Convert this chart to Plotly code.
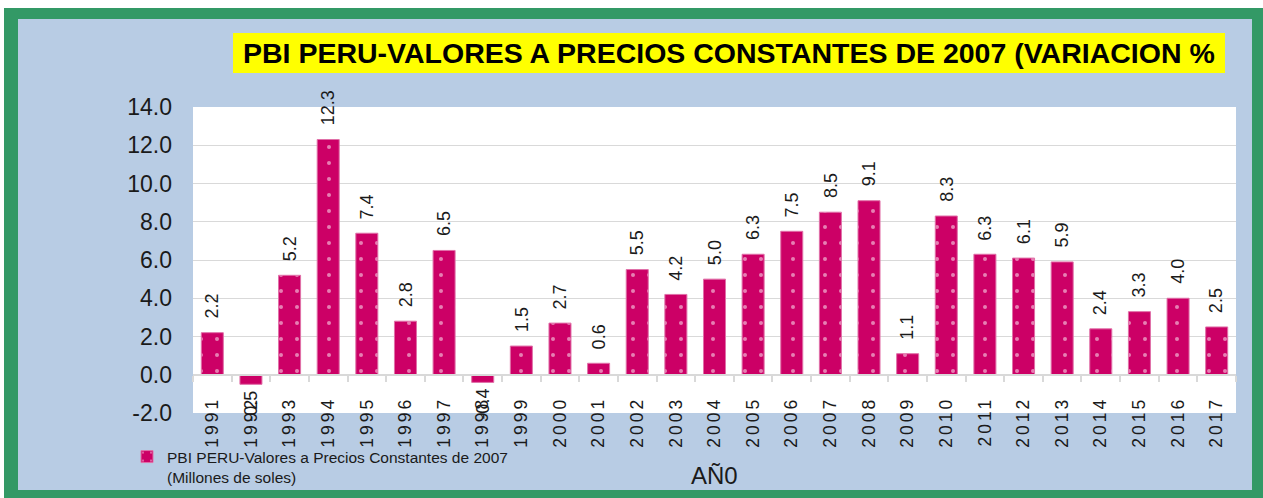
import plotly.graph_objects as go

# data
years = [str(y) for y in range(1991, 2018)]
variacion = [2.2, -0.5, 5.2, 12.3, 7.4, 2.8, 6.5, -0.4, 1.5, 2.7, 0.6, 5.5, 4.2, 5.0,
             6.3, 7.5, 8.5, 9.1, 1.1, 8.3, 6.3, 6.1, 5.9, 2.4, 3.3, 4.0, 2.5]
y_ticks = [-2, 0, 2, 4, 6, 8, 10, 12, 14]

TITLE = "PBI PERU-VALORES A PRECIOS CONSTANTES DE 2007 (VARIACION %"
SERIES = "PBI PERU-Valores a Precios Constantes de 2007<br>(Millones de soles)"
X_TITLE = "AÑ0"

FONT = "Liberation Sans, Arial, sans-serif"
GREEN = "#339966"
BLUE = "#B8CCE4"
BAR = "#CC0066"
GRID = "#D9D9D9"

# plot area in pixels
L, R, T, B = 193, 1236, 107, 413


def px_x(x):
    return (x - L) / (R - L)


def px_y(y):
    return (B - y) / (B - T)


def rect(x0, y0, x1, y1, color, layer="above"):
    return dict(type="rect", xref="paper", yref="paper",
                x0=px_x(x0), x1=px_x(x1), y0=px_y(y0), y1=px_y(y1),
                fillcolor=color, line=dict(width=0), layer=layer)


idx = list(range(len(years)))

fig = go.Figure(go.Bar(
    x=idx,
    y=variacion,
    name=SERIES,
    width=0.57,
    marker=dict(
        color=BAR,
        line=dict(color="#E070A8", width=1),
        pattern=dict(shape=".", fgcolor="white", bgcolor=BAR, size=16, solidity=0.05),
    ),
    customdata=years,
    hovertemplate="%{customdata}: %{y:.1f}<extra></extra>",
))

# value labels above / below each bar
annotations = []
for i, v in zip(idx, variacion):
    annotations.append(dict(
        x=i, y=v, xref="x", yref="y",
        text=f"{v:.1f}", textangle=-90, showarrow=False,
        yanchor="bottom" if v >= 0 else "top",
        yshift=12 if v >= 0 else -4,
        font=dict(family=FONT, size=18, color="#1a1a1a"),
    ))

annotations.append(dict(
    x=px_x(729), y=px_y(53), xref="paper", yref="paper", showarrow=False,
    xanchor="center", yanchor="middle",
    text=f"<b>{TITLE}</b>",
    font=dict(family=FONT, size=28.5, color="black"),
))
annotations.append(dict(
    x=px_x(714), y=px_y(475), xref="paper", yref="paper", showarrow=False,
    xanchor="center", yanchor="middle",
    text=X_TITLE, font=dict(family=FONT, size=24, color="#1a1a1a"),
))

shapes = [
    rect(0, 0, 1263, 8, "white"),
    rect(0, 0, 4, 498, "white"),
    rect(4, 8, 1263, 19, GREEN),
    rect(4, 8, 18, 498, GREEN),
    rect(1252, 8, 1263, 498, GREEN),
    rect(4, 490, 1263, 498, GREEN),
    rect(233, 33, 1225, 73, "#FFFF00", layer="below"),
]

fig.update_layout(
    width=1263, height=498,
    margin=dict(l=L, r=1263 - R, t=T, b=498 - B, autoexpand=False),
    paper_bgcolor=BLUE,
    plot_bgcolor="white",
    showlegend=True,
    legend=dict(
        x=px_x(127), y=px_y(440), xanchor="left", yanchor="top",
        bgcolor="rgba(0,0,0,0)", valign="top",
        font=dict(family=FONT, size=15.5, color="#1a1a1a"),
    ),
    xaxis=dict(
        range=[-0.5, len(years) - 0.5],
        anchor="free", position=px_y(375), automargin=False,
        showline=True, linecolor=GRID, linewidth=1.5,
        ticks="", showgrid=False, zeroline=False,
        tickangle=-90,
        tickmode="array", tickvals=idx,
        ticktext=[f'<span style="letter-spacing:3px">{y}</span>' for y in years],
        ticklabelstandoff=14,
        tickfont=dict(family=FONT, size=17.5, color="#1a1a1a"),
        minor=dict(tickmode="array", tickvals=[i - 0.5 for i in idx] + [len(years) - 0.5],
                   ticks="outside", ticklen=6, tickcolor=GRID, tickwidth=1.5),
    ),
    yaxis=dict(
        range=[-2, 14], automargin=False,
        tickmode="array", tickvals=y_ticks,
        ticktext=[f"{v:.1f}" for v in y_ticks],
        showgrid=True, gridcolor=GRID, gridwidth=1.3,
        zeroline=False, showline=False,
        ticks="", ticklabelstandoff=20,
        tickfont=dict(family=FONT, size=23, color="#1a1a1a"),
    ),
    annotations=annotations,
    shapes=shapes,
)

fig.write_html("out.html", config={"displayModeBar": False},
               post_script="document.body.style.margin='0';")
